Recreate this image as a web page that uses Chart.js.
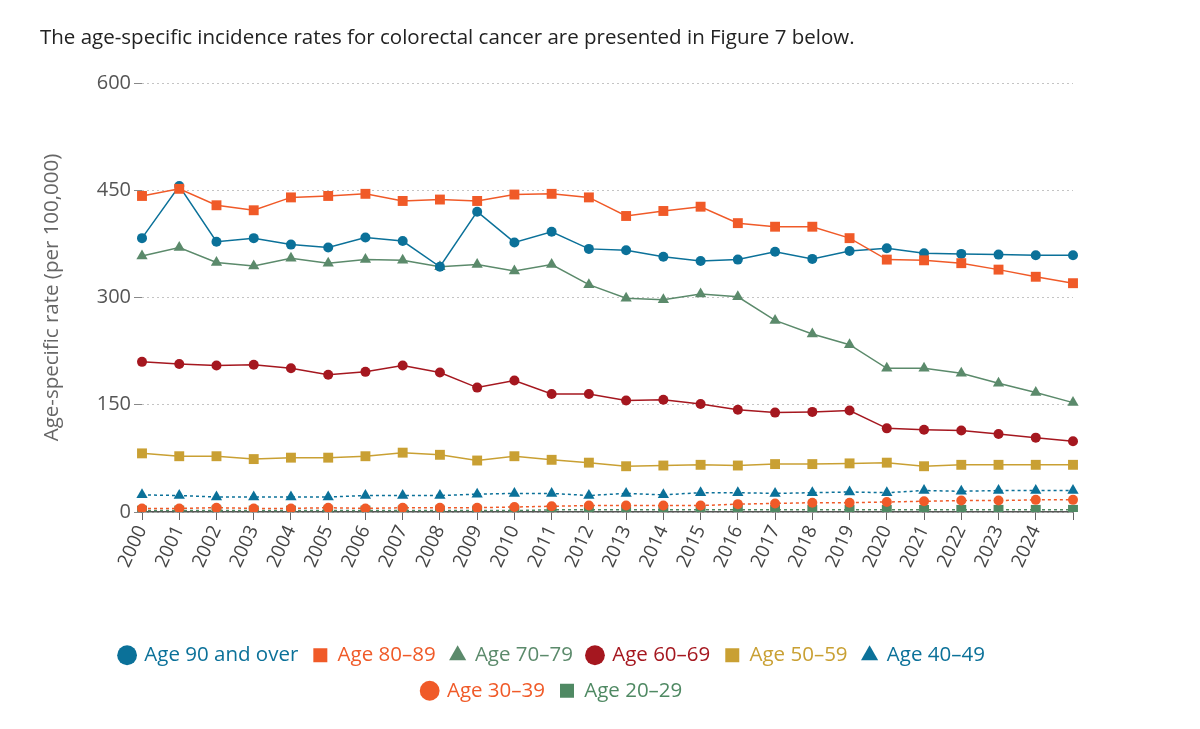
<!DOCTYPE html>
<html>
<head>
<meta charset="utf-8">
<script src="https://cdn.jsdelivr.net/npm/chart.js@4"></script>
<style>
  html, body { margin: 0; padding: 0; background: #fff; }
  #intro { position: absolute; left: 40px; top: 22px; margin: 0; font: 20.5px "Open Sans", sans-serif; color: #222; }
  #chart { position: absolute; left: 0; top: 0; }
</style>
</head>
<body>
<canvas id="chart" width="1200" height="729"></canvas>
<p id="intro">The age-specific incidence rates for colorectal cancer are presented in Figure 7 below.</p>
<script>
// Datos (tasa por 100.000)
const years = ["2000","2001","2002","2003","2004","2005","2006","2007","2008","2009","2010","2011","2012",
  "2013","2014","2015","2016","2017","2018","2019","2020","2021","2022","2023","2024","2025"];

const age90 = [383, 456, 378, 383, 374, 370, 384, 379, 343, 420, 377, 392, 368, 366, 357, 351, 353, 364, 354, 365, 369, 362, 361, 360, 359, 359];
const age80 = [442, 452, 429, 422, 440, 442, 445, 435, 437, 435, 444, 445, 440, 414, 421, 427, 404, 399, 399, 383, 353, 352, 348, 339, 329, 320];
const age70 = [358, 370, 349, 344, 355, 348, 353, 352, 343, 346, 337, 346, 318, 299, 297, 305, 301, 268, 249, 234, 201, 201, 194, 180, 167, 153];
const age60 = [210, 207, 205, 206, 201, 192, 196, 205, 195, 174, 184, 165, 165, 156, 157, 151, 143, 139, 140, 142, 117, 115, 114, 109, 104, 99];
const age50 = [82, 78, 78, 74, 76, 76, 78, 83, 80, 72, 78, 73, 69, 64, 65, 66, 65, 67, 67, 68, 69, 64, 66, 66, 66, 66];
const age40 = [24, 23, 21, 21, 21, 21, 23, 23, 23, 25, 26, 26, 23, 26, 24, 27, 27, 26, 27, 28, 27, 30, 29, 30, 30, 30];
const age30 = [5, 5, 6, 5, 5, 6, 5, 6, 6, 6, 7, 8, 9, 9, 9, 9, 11, 12, 13, 13, 14, 15, 16, 16, 17, 17];
const age20 = [2, 2, 2, 2, 2, 2, 2, 2, 2, 2, 2, 3, 3, 3, 3, 3, 3, 3, 3, 3, 3, 3, 3, 3, 3, 3];

const FONT = "'Open Sans', sans-serif";

function serie(label, data, color, style, radius, dashed, order) {
  return {
    label: label,
    data: data,
    borderColor: color,
    backgroundColor: color,
    pointBackgroundColor: color,
    pointBorderColor: color,
    pointBorderWidth: 0,
    pointStyle: style,
    pointRadius: radius,
    borderWidth: 1.5,
    borderDash: dashed ? [3, 3] : [],
    tension: 0,
    order: order
  };
}

// mueve la leyenda para centrarla como en el original
const moverLeyenda = {
  id: "moverLeyenda",
  afterLayout(chart) {
    chart.legend.left -= 55;
    chart.legend.right -= 55;
  }
};

new Chart(document.getElementById("chart"), {
  type: "line",
  data: {
    labels: years,
    datasets: [
      serie("Age 90 and over", age90, "#0b7199", "circle", 5, false, 2),
      serie("Age 80\u201389", age80, "#f05a28", "rect", 7, false, 1),
      serie("Age 70\u201379", age70, "#5b8a6b", "triangle", 6.5, false, 3),
      serie("Age 60\u201369", age60, "#a5171f", "circle", 5, false, 4),
      serie("Age 50\u201359", age50, "#c9a033", "rect", 7, false, 5),
      serie("Age 40\u201349", age40, "#0b7199", "triangle", 6.5, true, 6),
      serie("Age 30\u201339", age30, "#f05a28", "circle", 5, true, 7),
      serie("Age 20\u201329", age20, "#4f8963", "rect", 7, true, 8)
    ]
  },
  options: {
    responsive: false,
    animation: false,
    layout: { padding: { top: 83, left: 30, right: 127, bottom: 18 } },
    plugins: {
      tooltip: { enabled: false },
      legend: {
        position: "bottom",
        fullSize: false,
        labels: {
          usePointStyle: true,
          boxWidth: 14,
          boxHeight: 14,
          padding: 15,
          font: { size: 20.5, family: FONT },
          sort: (a, b) => a.datasetIndex - b.datasetIndex,
          generateLabels(chart) {
            const items = Chart.defaults.plugins.legend.labels.generateLabels(chart);
            items.forEach(it => {
              const ds = chart.data.datasets[it.datasetIndex];
              it.fontColor = ds.borderColor;
              it.fillStyle = ds.borderColor;
              it.strokeStyle = ds.borderColor;
              it.lineWidth = 0;
              it.lineDash = [];
            });
            return items;
          }
        }
      }
    },
    scales: {
      x: {
        grid: { drawOnChartArea: false, drawTicks: true, tickLength: 8, color: "#666" },
        border: { color: "#555", width: 1.5 },
        ticks: {
          autoSkip: false,
          minRotation: 65,
          maxRotation: 65,
          padding: 2,
          color: "#444",
          font: { size: 19, family: FONT },
          callback: (v, i) => (i === years.length - 1 ? "" : years[i])
        },
        afterFit: s => { s.height = 118; }
      },
      y: {
        min: 0,
        max: 600,
        ticks: { stepSize: 150, padding: 3, color: "#555", font: { size: 20, family: FONT } },
        grid: { color: "#c4c4c4", tickColor: "#888", tickLength: 8, tickBorderDash: [] },
        border: { display: false, dash: [2, 3] },
        title: {
          display: true,
          text: "Age-specific rate (per 100,000)",
          color: "#666",
          font: { size: 20.5, family: FONT },
          padding: { top: 10, bottom: 0 }
        },
        afterFit: s => { s.width = 112; }
      }
    }
  },
  plugins: [moverLeyenda]
});
</script>
</body>
</html>
